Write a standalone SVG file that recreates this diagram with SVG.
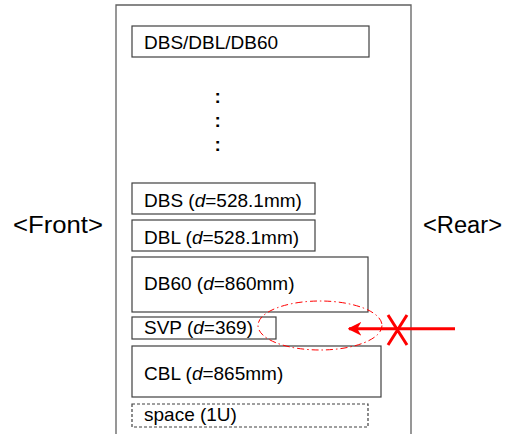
<svg xmlns="http://www.w3.org/2000/svg" width="506" height="434" viewBox="0 0 506 434">
  <style>
    .box { fill: #ffffff; stroke: #404040; stroke-width: 1.2; }
    .dash { stroke-dasharray: 3 2; }
    .lbl { font-family: "Liberation Sans", Arial, sans-serif; font-size: 19px; fill: #000000; }
    .side { font-family: "Liberation Sans", Arial, sans-serif; font-size: 23px; fill: #000000; }
    .red { stroke: #ff0000; fill: none; }
  </style>
  <defs>
    <marker id="head" viewBox="0 0 10 10" refX="9" refY="5" markerWidth="4.6" markerHeight="5" orient="auto" markerUnits="strokeWidth">
      <path d="M0,0 L10,5 L0,10 L3,5 Z" fill="#ff0000"/>
    </marker>
  </defs>

  <rect width="506" height="434" fill="#ffffff"/>

  <!-- rack outline -->
  <g id="rack">
    <path d="M116,436 V5 H411 V436" fill="none" stroke="#606060" stroke-width="1.3"/>
  </g>

  <g id="front-label">
    <text class="side" x="13" y="233" textLength="90" lengthAdjust="spacingAndGlyphs">&lt;Front&gt;</text>
  </g>
  <g id="rear-label">
    <text class="side" x="423" y="233" textLength="79" lengthAdjust="spacingAndGlyphs">&lt;Rear&gt;</text>
  </g>

  <g id="top-unit">
    <rect class="box" x="132" y="26" width="237" height="31"/>
    <text class="lbl" x="144" y="48.5">DBS/DBL/DB60</text>
  </g>

  <g id="ellipsis">
    <text class="lbl" x="214.5" y="103" font-weight="bold">:</text>
    <text class="lbl" x="214.5" y="127" font-weight="bold">:</text>
    <text class="lbl" x="214.5" y="151" font-weight="bold">:</text>
  </g>

  <g id="dbs">
    <rect class="box" x="132" y="183" width="183" height="31"/>
    <text class="lbl" x="144" y="207">DBS (<tspan font-style="italic">d</tspan>=528.1mm)</text>
  </g>

  <g id="dbl">
    <rect class="box" x="132" y="220" width="183" height="31"/>
    <text class="lbl" x="144" y="243.5">DBL (<tspan font-style="italic">d</tspan>=528.1mm)</text>
  </g>

  <g id="db60">
    <rect class="box" x="132" y="257" width="236" height="55"/>
    <text class="lbl" x="144" y="289.5">DB60 (<tspan font-style="italic">d</tspan>=860mm)</text>
  </g>

  <g id="svp">
    <rect class="box" x="132" y="317" width="144" height="22"/>
    <text class="lbl" x="144" y="333.5">SVP (<tspan font-style="italic">d</tspan>=369)</text>
  </g>

  <g id="cbl">
    <rect class="box" x="132" y="346" width="249" height="51"/>
    <text class="lbl" x="144" y="379.5">CBL (<tspan font-style="italic">d</tspan>=865mm)</text>
  </g>

  <g id="space">
    <rect class="box dash" x="132" y="404" width="236" height="23"/>
    <text class="lbl" x="144" y="421">space (1U)</text>
  </g>

  <!-- blocked rear access -->
  <g id="connectors">
    <ellipse class="red" cx="320" cy="325.5" rx="62" ry="24.5" stroke-width="1" stroke-dasharray="7 3 1.5 3"/>
    <line class="red" x1="455" y1="328.7" x2="349" y2="328.7" stroke-width="3" marker-end="url(#head)"/>
    <path class="red" d="M388,315 L407,345 M407,315 L388,345" stroke-width="3"/>
  </g>
</svg>
